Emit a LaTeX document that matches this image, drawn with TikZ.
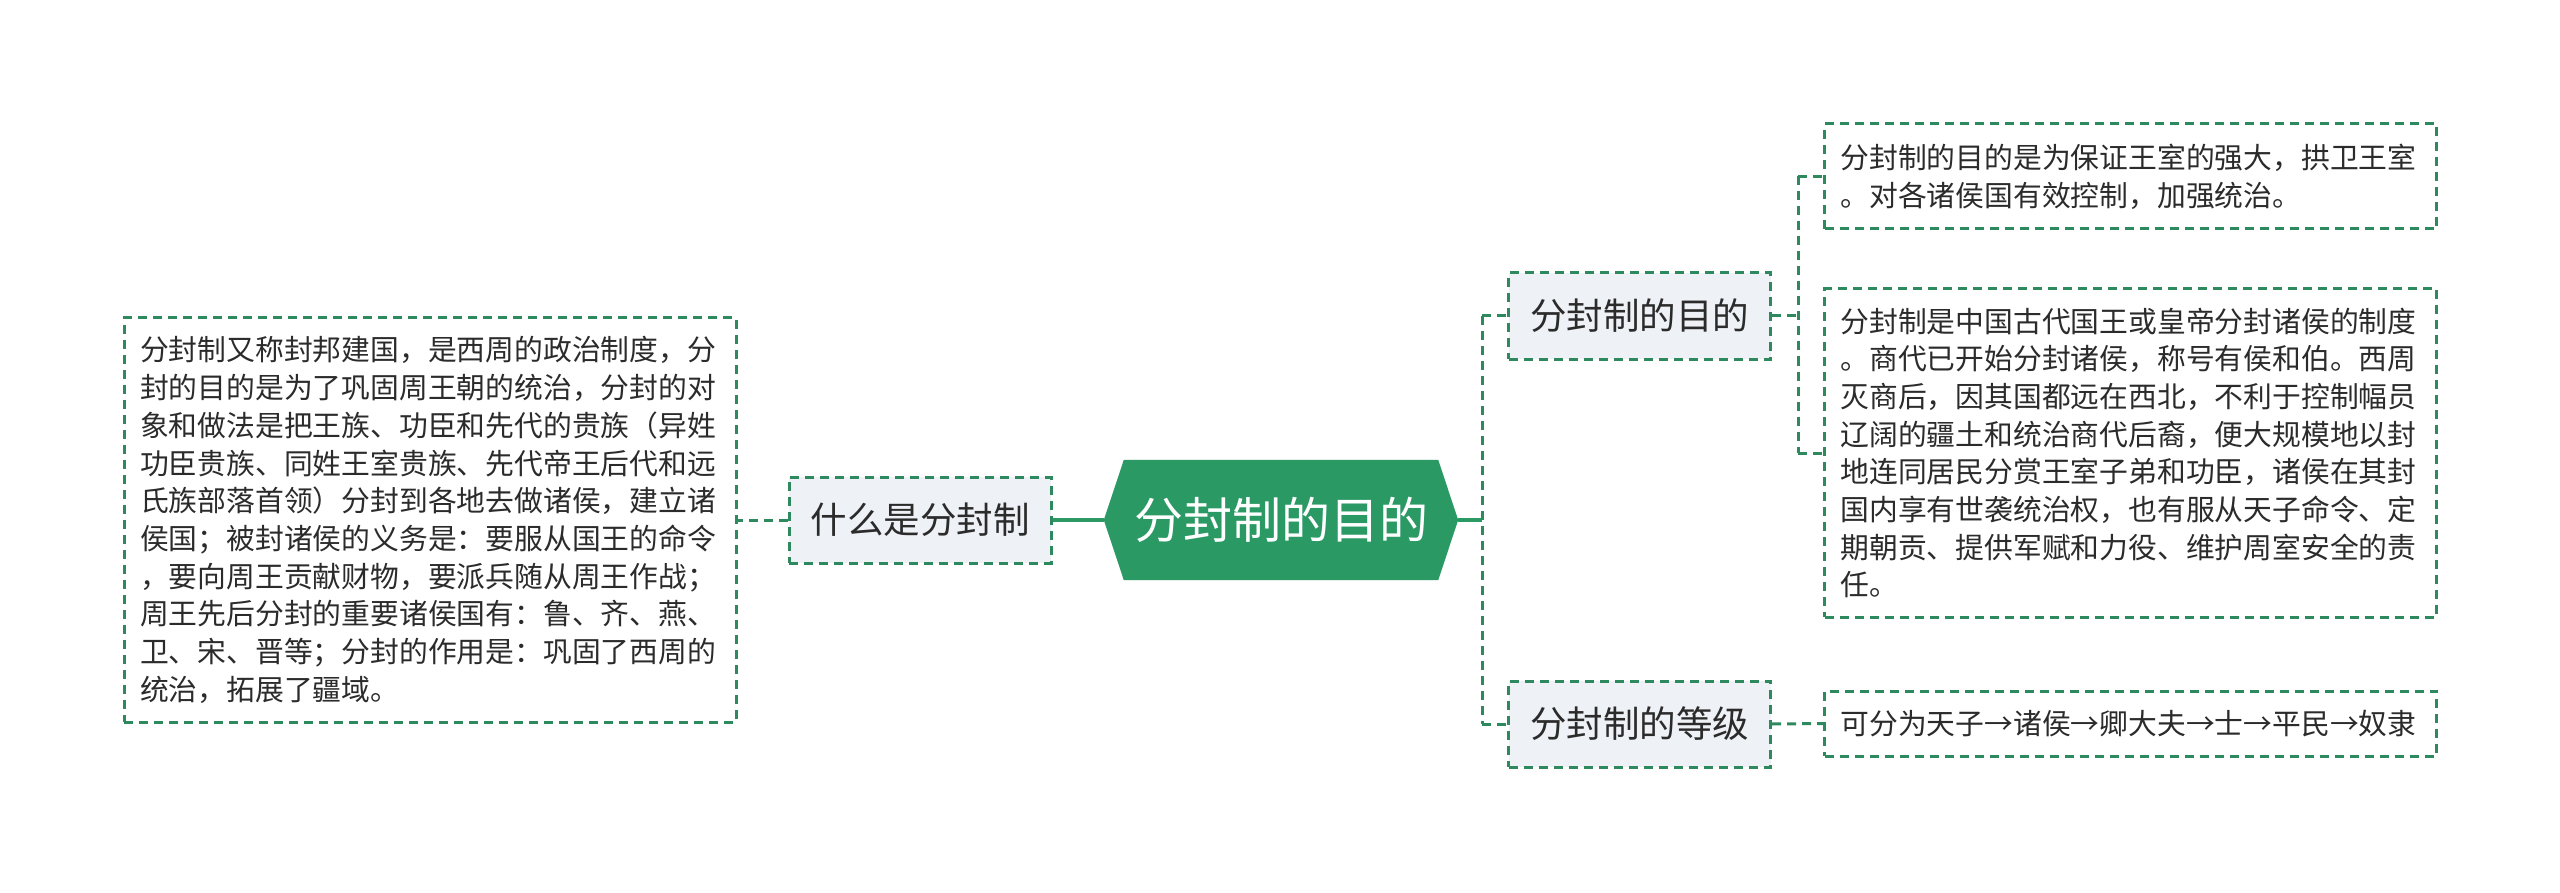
\documentclass[tikz,border=0pt]{standalone}
\usepackage{fontspec}
\setmainfont{Noto Sans CJK SC}
\usetikzlibrary{positioning}
\definecolor{mgreen}{HTML}{2A9964}
\definecolor{bgreen}{HTML}{2E8A5E}
\definecolor{subfill}{HTML}{EEF1F5}
\definecolor{txt}{HTML}{2B2B2B}
\pgfdeclarelayer{bg}
\pgfsetlayers{bg,main}
\tikzset{
  dline/.style={draw=bgreen, line width=3pt, dash pattern=on 9pt off 6pt},
  sline/.style={draw=mgreen, line width=3.5pt},
  subbox/.style={dline, fill=subfill, text=txt, font=\fontsize{36.5pt}{42pt}\selectfont,
    minimum width=262pt, minimum height=86pt, inner sep=0pt},
  textbox/.style={dline, fill=white, text=txt, align=left, inner xsep=16pt, inner ysep=0pt,
    text width=580pt, minimum width=612pt},
}
\begin{document}
\begin{tikzpicture}[x=1pt,y=-1pt]
\useasboundingbox (0,0) rectangle (2560,893);
% center
\node (c) [minimum width=354pt, minimum height=120pt, inner sep=0pt, text=white,
  font=\fontsize{49pt}{56pt}\selectfont] at (1281,520) {分封制的目的};
\begin{pgfonlayer}{bg}
\fill[mgreen] (c.west) -- ([xshift=20pt]c.north west) -- ([xshift=-20pt]c.north east)
  -- (c.east) -- ([xshift=-20pt]c.south east) -- ([xshift=20pt]c.south west) -- cycle;
\end{pgfonlayer}
% left
\node (what) [subbox] at (920,520) {什么是分封制};
\node (lbox) [textbox, minimum height=404pt, font=\fontsize{28.8pt}{37.7pt}\selectfont] at (430,520) {%
分封制又称封邦建国，是西周的政治制度，分\\
封的目的是为了巩固周王朝的统治，分封的对\\
象和做法是把王族、功臣和先代的贵族（异姓\\
功臣贵族、同姓王室贵族、先代帝王后代和远\\
氏族部落首领）分封到各地去做诸侯，建立诸\\
侯国；被封诸侯的义务是：要服从国王的命令\\
，要向周王贡献财物，要派兵随从周王作战；\\
周王先后分封的重要诸侯国有：鲁、齐、燕、\\
卫、宋、晋等；分封的作用是：巩固了西周的\\
统治，拓展了疆域。};
% right
\node (mud) [subbox] at (1639.5,316) {分封制的目的};
\node (deng) [subbox] at (1639.5,724) {分封制的等级};
\node (t1) [textbox, minimum height=105pt, font=\fontsize{28.8pt}{37.7pt}\selectfont] at (2130.5,176.5) {%
分封制的目的是为保证王室的强大，拱卫王室\\
。对各诸侯国有效控制，加强统治。};
\node (t2) [textbox, minimum height=328pt, font=\fontsize{28.8pt}{37.7pt}\selectfont] at (2130.5,453) {%
分封制是中国古代国王或皇帝分封诸侯的制度\\
。商代已开始分封诸侯，称号有侯和伯。西周\\
灭商后，因其国都远在西北，不利于控制幅员\\
辽阔的疆土和统治商代后裔，便大规模地以封\\
地连同居民分赏王室子弟和功臣，诸侯在其封\\
国内享有世袭统治权，也有服从天子命令、定\\
期朝贡、提供军赋和力役、维护周室安全的责\\
任。};
\node (t3) [textbox, minimum height=65pt, font=\fontsize{28.8pt}{37.7pt}\selectfont] at (2130.5,723.5) {%
可分为天子→诸侯→卿大夫→士→平民→奴隶};
% connectors
\draw[sline] (c.west) -- (what.east);
\draw[dline] (what.west) -- (lbox.east);
\coordinate (j) at (1482,520);
\draw[sline] (c.east) -- (j);
\draw[dline] (j |- mud.west) -- (j |- deng.west);
\draw[dline] (j |- mud.west) -- (mud.west);
\draw[dline] (j |- deng.west) -- (deng.west);
\coordinate (k) at (1798,316);
\draw[dline] (mud.east) -- (k);
\draw[dline] (k |- t1.west) -- (k |- t2.west);
\draw[dline] (k |- t1.west) -- (t1.west);
\draw[dline] (k |- t2.west) -- (t2.west);
\draw[dline] (deng.east) -- (t3.west);
\end{tikzpicture}
\end{document}
